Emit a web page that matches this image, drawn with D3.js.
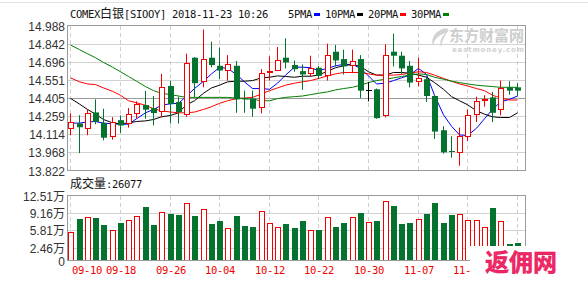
<!DOCTYPE html>
<html><head><meta charset="utf-8">
<script src="https://cdn.jsdelivr.net/npm/d3@7"></script>
<style>html,body{margin:0;padding:0;background:#fff;}svg{display:block;}</style>
</head><body>
<script>
// ---------- data ----------
const dates = ["09-10","09-11","09-12","09-13","09-14","09-17","09-18","09-19","09-20","09-21","09-24","09-25","09-26","09-27","09-28",
"10-01","10-02","10-03","10-04","10-05","10-08","10-09","10-10","10-11","10-12","10-15","10-16","10-17","10-18","10-19","10-22","10-23","10-24","10-25","10-26","10-29","10-30","10-31",
"11-01","11-02","11-05","11-06","11-07","11-08","11-09","11-12","11-13","11-14","11-15","11-16","11-19","11-20","11-21","11-22","11-23"];
const open  = [14.167,14.200,14.167,14.289,14.205,14.103,14.227,14.203,14.286,14.348,14.324,14.300,14.502,14.373,14.275,14.729,14.540,14.729,14.664,14.632,14.664,14.402,14.400,14.335,14.624,14.632,14.729,14.670,14.621,14.605,14.648,14.589,14.777,14.718,14.670,14.718,14.470,14.475,14.265,14.777,14.745,14.664,14.545,14.556,14.421,14.146,13.979,13.973,14.097,14.275,14.397,14.410,14.313,14.491,14.491];
const high  = [14.281,14.267,14.313,14.394,14.319,14.251,14.265,14.324,14.378,14.462,14.421,14.599,14.543,14.416,14.761,14.734,14.956,14.858,14.810,14.750,14.702,14.464,14.464,14.637,14.740,14.815,14.885,14.707,14.675,14.745,14.664,14.842,14.831,14.794,14.794,14.750,14.535,14.481,14.837,14.923,14.777,14.702,14.729,14.578,14.427,14.178,14.097,14.167,14.313,14.416,14.427,14.454,14.545,14.540,14.524];
const low   = [14.105,13.962,14.105,14.194,14.065,14.070,14.124,14.167,14.238,14.238,14.184,14.249,14.200,14.200,14.254,14.410,14.491,14.653,14.556,14.545,14.286,14.286,14.254,14.281,14.545,14.621,14.643,14.616,14.470,14.578,14.556,14.545,14.659,14.594,14.605,14.405,14.378,14.238,14.249,14.659,14.599,14.491,14.497,14.373,14.076,13.957,13.925,13.860,14.060,14.211,14.335,14.211,14.265,14.432,14.421];
const close = [14.208,14.170,14.281,14.213,14.086,14.208,14.184,14.273,14.354,14.311,14.284,14.491,14.356,14.292,14.686,14.524,14.718,14.670,14.626,14.675,14.394,14.397,14.319,14.605,14.626,14.707,14.691,14.637,14.594,14.648,14.583,14.750,14.707,14.659,14.702,14.464,14.470,14.243,14.750,14.745,14.643,14.529,14.567,14.421,14.135,13.968,13.973,14.103,14.265,14.383,14.400,14.286,14.486,14.464,14.464];
const ma5  = [14.203,14.203,14.213,14.216,14.203,14.197,14.194,14.194,14.238,14.286,14.313,14.346,14.359,14.362,14.421,14.481,14.540,14.599,14.651,14.643,14.594,14.535,14.481,14.481,14.475,14.524,14.589,14.653,14.653,14.648,14.626,14.643,14.664,14.675,14.675,14.643,14.583,14.518,14.524,14.545,14.567,14.589,14.643,14.594,14.427,14.270,14.178,14.108,14.103,14.162,14.238,14.313,14.373,14.394,14.421];
const ma10 = [14.402,14.356,14.313,14.275,14.232,14.205,14.197,14.205,14.216,14.221,14.232,14.254,14.265,14.286,14.351,14.383,14.443,14.486,14.508,14.535,14.540,14.540,14.545,14.567,14.572,14.583,14.578,14.572,14.580,14.580,14.589,14.621,14.648,14.664,14.675,14.659,14.616,14.589,14.589,14.610,14.610,14.605,14.589,14.572,14.529,14.475,14.416,14.383,14.351,14.302,14.275,14.254,14.248,14.248,14.286];
const ma20 = [14.567,14.535,14.518,14.513,14.486,14.459,14.427,14.383,14.367,14.346,14.319,14.302,14.292,14.286,14.286,14.292,14.313,14.335,14.362,14.383,14.400,14.405,14.410,14.437,14.464,14.486,14.508,14.524,14.535,14.545,14.562,14.583,14.599,14.610,14.610,14.610,14.599,14.589,14.589,14.589,14.594,14.605,14.616,14.610,14.589,14.562,14.540,14.518,14.502,14.481,14.464,14.427,14.405,14.389,14.389];
const ma30 = [14.831,14.794,14.761,14.729,14.691,14.653,14.616,14.578,14.540,14.497,14.464,14.443,14.432,14.421,14.410,14.410,14.410,14.410,14.410,14.410,14.405,14.400,14.394,14.383,14.383,14.400,14.410,14.416,14.421,14.432,14.443,14.454,14.470,14.481,14.491,14.508,14.529,14.545,14.556,14.567,14.578,14.589,14.599,14.594,14.572,14.556,14.540,14.529,14.518,14.508,14.502,14.497,14.491,14.491,14.491];
const volume = [5.58,8.08,8.46,8.27,6.80,5.96,7.18,7.88,8.65,10.26,6.80,9.42,8.91,8.72,11.15,8.53,10.00,6.99,7.69,6.35,8.53,6.60,6.41,9.62,7.18,6.54,6.99,6.22,7.69,5.96,5.83,8.46,6.54,7.18,8.46,9.10,7.50,7.69,11.54,10.45,6.99,7.18,8.08,8.91,11.03,7.18,8.72,9.04,7.88,7.88,6.54,10.06,7.69,3.14,3.33];
const priceTicks = [13.822,13.968,14.114,14.259,14.405,14.551,14.696,14.842,14.988];
const volTicks = [0,2.46,5.81,9.16,12.51];
const volTickLabels = ["0","2.46万","5.81万","9.16万","12.51万"];
const maNames = ["5PMA","10PMA","20PMA","30PMA"];
const title = "COMEX白银[SIOOY] 2018-11-23 10:26";
const volLabel = "成交量:26077";

// ---------- styles ----------
const UP = "#f00000", DOWN = "#05722f", MA_COLORS = ["#0000ff","#000000","#ff0000","#008000"];
const L = 67, R = 525.5;
const svg = d3.select("body").append("svg").attr("width",588).attr("height",285);

svg.append("defs").append("clipPath").attr("id","labclip")
  .append("rect").attr("x",0).attr("y",0).attr("width",470).attr("height",285);

function isCJK(ch){ return /[\u3000-\u9fff\uff00-\uffef]/.test(ch); }
function monoText(g, str, x, y, fill, anchor){
  const chars = Array.from(str);
  const widths = chars.map(c => isCJK(c) ? 12 : 6);
  const total = d3.sum(widths);
  let x0 = anchor === "middle" ? x - total/2 : x;
  const t = g.append("text").attr("y", y).attr("fill", fill)
    .style("font-family","'DejaVu Sans Mono','Liberation Mono',monospace").style("font-size","10.5px");
  chars.forEach((c,i)=>{
    const ts = t.append("tspan").attr("x", x0).text(c);
    if (isCJK(c)) ts.style("font-family","'Noto Sans CJK SC'").style("font-size","12px");
    x0 += widths[i];
  });
  return t;
}

// top thin line
svg.append("line").attr("x1",0).attr("x2",588).attr("y1",2.5).attr("y2",2.5).attr("stroke","#e2e2e2");

// ---------- scales ----------
const x = d3.scaleBand().domain(d3.range(dates.length)).range([L,522]).paddingInner(0.3).paddingOuter(0.15);
const bx = i => Math.round(x(i));
const cx = i => Math.round(x(i)) + 3;
const y = d3.scaleLinear().domain([13.822,14.988]).range([170.5,25.5]);
const yv = d3.scaleLinear().domain([0,12.51]).range([260.5,195.5]);

// ---------- watermark eastmoney ----------
const wm = svg.append("g").attr("opacity",0.9);
wm.append("path").attr("d","M446,28 C436,30 430,38 433,46 C434,40 438,35 446,33 C441,37 439,42 441,47 C442,40 446,34 449,30 Z").attr("fill","#cfcfcf");
wm.append("text").attr("x",449).attr("y",41).text("东方财富网").attr("fill","#c9c9c9")
  .style("font-family","'Noto Sans CJK SC'").style("font-size","15px").style("font-weight","bold");
wm.append("text").attr("x",452).attr("y",51.5).text("eastmoney.com").attr("fill","#cdcdcd")
  .style("font-family","'DejaVu Sans'").style("font-size","7px").style("font-weight","bold").attr("textLength",72);

// ---------- price panel ----------
const pg = svg.append("g");
priceTicks.forEach(t=>{
  const yy = Math.round(y(t)) + 0.5;
  if (t !== 13.822 && t !== 14.988)
    pg.append("line").attr("x1",L).attr("x2",R).attr("y1",yy).attr("y2",yy)
      .attr("stroke", t===14.405 ? "#9a9a9a" : "#d2d2d2");
  pg.append("text").attr("x",65).attr("y",yy+4.3).attr("text-anchor","end").text(t.toFixed(3))
    .attr("fill","#333").style("font-family","'Liberation Sans',Arial").style("font-size","12px");
});
dates.forEach((d,i)=>{
  if (i%6===0){
    pg.append("line").attr("x1",cx(i)-0.5).attr("x2",cx(i)-0.5).attr("y1",26).attr("y2",170)
      .attr("stroke","#cfcfcf").attr("stroke-dasharray","4,3");
  }
});
pg.append("rect").attr("x",67.5).attr("y",25.5).attr("width",R-67.5).attr("height",145)
  .attr("fill","none").attr("stroke","#9a9a9a");

// MA lines
[ma5,ma10,ma20,ma30].forEach((arr,k)=>{
  pg.append("path").attr("d", d3.line().x((v,i)=>cx(i)-0.5).y(v=>y(v))(arr))
    .attr("fill","none").attr("stroke",MA_COLORS[k]).attr("stroke-width",1);
});

// candles
dates.forEach((d,i)=>{
  const o=open[i], c=close[i], h=high[i], l=low[i];
  const col = c>o ? UP : (c<o ? DOWN : "#000");
  const wx = cx(i) - 0.5;
  pg.append("line").attr("x1",wx).attr("x2",wx).attr("y1",y(h)).attr("y2",y(l)).attr("stroke",col);
  const top = y(Math.max(o,c)), bot = y(Math.min(o,c));
  if (c===o){
    pg.append("line").attr("x1",bx(i)).attr("x2",bx(i)+6).attr("y1",Math.round(top)+0.5).attr("y2",Math.round(top)+0.5).attr("stroke",col);
  } else if (c>o){
    pg.append("rect").attr("x",bx(i)+0.5).attr("y",Math.round(top)+0.5).attr("width",5)
      .attr("height",Math.max(1,Math.round(bot)-Math.round(top))).attr("fill","#fff").attr("stroke",col);
  } else {
    pg.append("rect").attr("x",bx(i)).attr("y",top).attr("width",6).attr("height",Math.max(1,bot-top)).attr("fill",col);
  }
});

// title + legend
monoText(svg, title, 70, 18, "#111");
let lx = 288;
maNames.forEach((n,k)=>{
  monoText(svg, n, lx, 18, "#111");
  lx += n.length*6 + 2;
  svg.append("rect").attr("x",lx).attr("y",13).attr("width",6).attr("height",3).attr("fill",MA_COLORS[k]);
  lx += 6 + 5;
});

// ---------- volume panel ----------
const vg = svg.append("g");
monoText(vg, volLabel, 70, 188, "#111");
volTicks.forEach((t,k)=>{
  const yy = Math.round(yv(t)) + 0.5;
  if (t!==0 && t!==12.51)
    vg.append("line").attr("x1",L).attr("x2",R).attr("y1",yy).attr("y2",yy).attr("stroke","#d2d2d2");
  vg.append("text").attr("x",65).attr("y",yy+4.3).attr("text-anchor","end").text(volTickLabels[k])
    .attr("fill","#333").style("font-family","'Liberation Sans',Arial,'Noto Sans CJK SC'").style("font-size","12px");
});
const labG = vg.append("g").attr("clip-path","url(#labclip)");
dates.forEach((d,i)=>{
  if (i%6===0){
    vg.append("line").attr("x1",cx(i)-0.5).attr("x2",cx(i)-0.5).attr("y1",196).attr("y2",260)
      .attr("stroke","#cfcfcf").attr("stroke-dasharray","4,3");
    if (i < dates.length-1)
      monoText(labG, d, i===0 ? cx(i)+1 : cx(i), 274, "#f00000", i===0 ? "start" : "middle");
  }
});
dates.forEach((d,i)=>{
  const up = close[i] >= open[i];
  const top = Math.round(yv(volume[i]));
  if (up){
    vg.append("rect").attr("x",bx(i)+0.5).attr("y",top+0.5).attr("width",5).attr("height",260-top)
      .attr("fill","#fff").attr("stroke",UP);
  } else {
    vg.append("rect").attr("x",bx(i)).attr("y",top).attr("width",6).attr("height",260.5-top).attr("fill",DOWN);
  }
});
vg.append("rect").attr("x",67.5).attr("y",195.5).attr("width",R-67.5).attr("height",65)
  .attr("fill","none").attr("stroke","#9a9a9a");

// ---------- watermark 返佣网 ----------
svg.append("rect").attr("x",470).attr("y",246).attr("width",118).attr("height",39).attr("fill","#fff");
svg.append("text").attr("x",485).attr("y",271).text("返佣网").attr("fill","#f0286a")
  .style("font-family","'Noto Sans CJK SC'").style("font-size","24px").style("font-weight","bold")
  .attr("stroke","#e0003c").attr("stroke-width",0.4);
</script>
</body></html>
